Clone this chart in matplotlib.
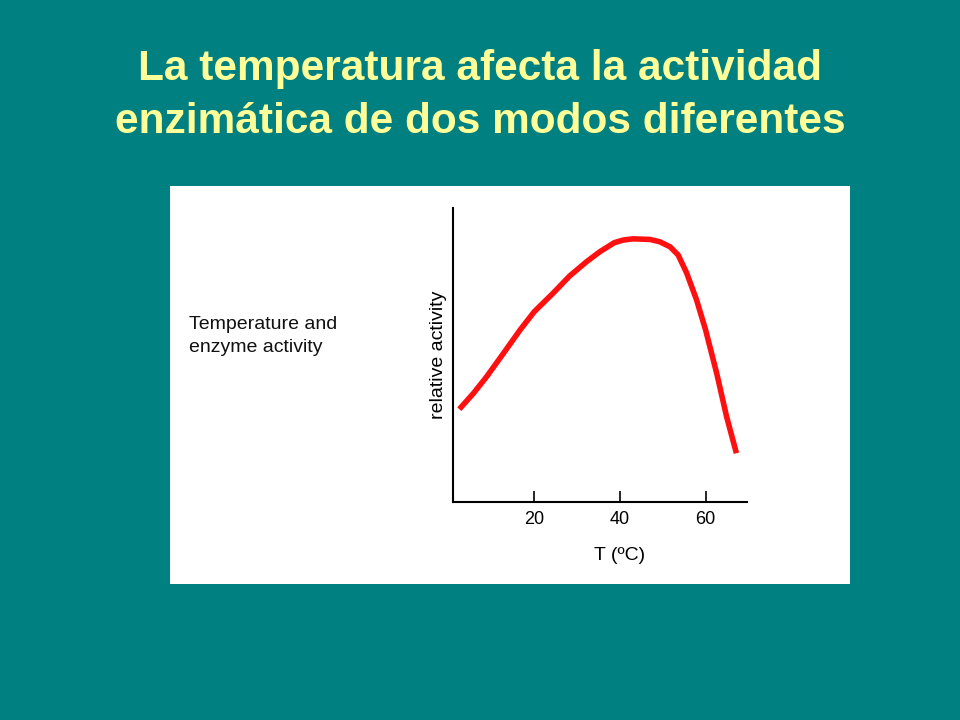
import numpy as np
import matplotlib.pyplot as plt

# curve: temperature (C) vs relative activity (0-100)
temp = [2.5, 5.8, 8.9, 12.8, 16.7, 20.0, 24.4, 28.3, 32.2, 35.3, 38.7, 40.8,
        43.1, 47.0, 49.3, 51.7, 53.6, 55.6, 57.9, 60.0, 62.6, 64.9, 67.2]
activity = [31.5, 36.9, 42.6, 50.5, 58.5, 64.7, 71.0, 76.9, 81.7, 85.1, 88.2, 89.1,
            89.5, 89.3, 88.5, 86.8, 84.0, 77.8, 68.7, 58.5, 43.7, 29.0, 16.5]
xticks = [20, 40, 60]

title = "La temperatura afecta la actividad\nenzimática de dos modos diferentes"
side_note = "Temperature and\nenzyme activity"

bg = '#008080'
fig = plt.figure(figsize=(9.6, 7.2), dpi=100, facecolor=bg)

fig.text(0.5, 1-95.5/720, title, ha='center', va='center', color='#FFFF99',
         fontsize=30.5, fontweight='bold', family='Liberation Sans', linespacing=1.42)

# white picture panel
panel = fig.add_axes([170/960, 1-584/720, 680/960, 398/720], zorder=0)
panel.set_facecolor('white')
panel.set_xticks([])
panel.set_yticks([])
for s in panel.spines.values():
    s.set_visible(False)

fig.text(189/960, 1-336/720, side_note, ha='left', va='center', fontsize=14,
         family='Liberation Sans', color='#111111', linespacing=1.4, zorder=3)

ax = fig.add_axes([452.7/960, 1-501.7/720, 294/960, 293.7/720], zorder=2)
ax.set_facecolor('none')
ax.plot(temp, activity, color='#FF1010', lw=4, solid_capstyle='butt',
        solid_joinstyle='round')
ax.set_xlim(0.96, 69.6)
ax.set_ylim(0, 100)
ax.set_xticks(xticks)
ax.set_xticklabels([str(t) for t in xticks], family='Liberation Sans', fontsize=13)
ax.set_yticks([])
ax.tick_params(axis='x', direction='in', length=8, width=1.2, pad=7)
for s in ['top', 'right']:
    ax.spines[s].set_visible(False)
for s in ['left', 'bottom']:
    ax.spines[s].set_linewidth(1.5)
ax.set_xlabel('T (ºC)', family='Liberation Sans', fontsize=14)
ax.xaxis.set_label_coords(0.569, -0.155)
ax.set_ylabel('relative activity', family='Liberation Sans', fontsize=14, labelpad=4)

fig.savefig('out.png', dpi=100, facecolor=bg)
